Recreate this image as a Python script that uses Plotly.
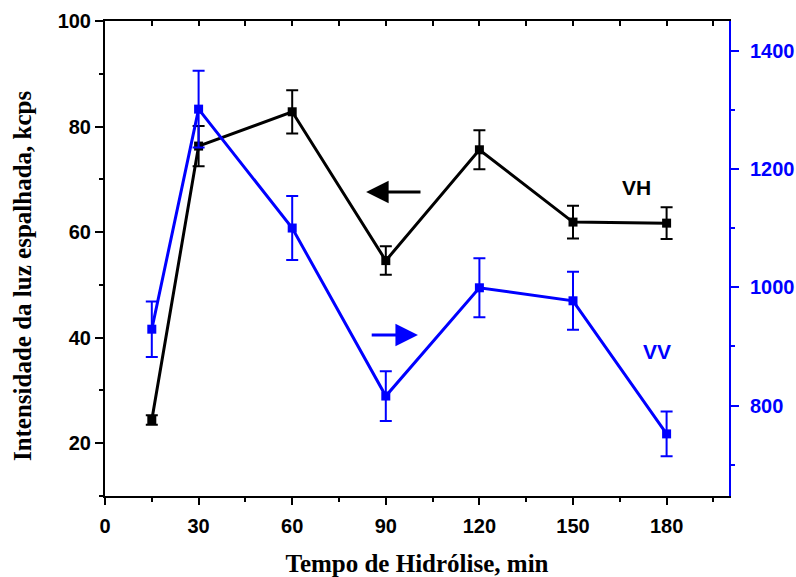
import plotly.graph_objects as go

time_min = [15, 30, 60, 90, 120, 150, 180]
vh_values = [24.4, 76.3, 82.8, 54.6, 75.6, 61.9, 61.7]
vh_errors = [0.9, 3.8, 4.1, 2.7, 3.7, 3.1, 3.0]
vv_values = [929, 1301, 1100, 816, 999, 977, 752]
vv_errors = [47, 65, 54, 42, 50, 49, 38]

BLUE = "#0000FF"
TICKFONT = dict(family="Liberation Sans, Arial", size=20, color="black", weight="bold")
TITLEFONT = dict(family="Liberation Serif, Times New Roman", size=25, color="black", weight="bold")

fig = go.Figure()

fig.add_trace(go.Scatter(
    x=time_min, y=vh_values, mode="lines+markers",
    line=dict(color="black", width=3),
    marker=dict(symbol="square", size=9, color="black"),
    error_y=dict(type="data", array=vh_errors, visible=True, color="black", thickness=2, width=6),
    yaxis="y", xaxis="x", showlegend=False,
))
fig.add_trace(go.Scatter(
    x=time_min, y=vv_values, mode="lines+markers",
    line=dict(color=BLUE, width=3),
    marker=dict(symbol="square", size=9, color=BLUE),
    error_y=dict(type="data", array=vv_errors, visible=True, color=BLUE, thickness=2, width=6),
    yaxis="y2", xaxis="x", showlegend=False,
))

fig.update_layout(
    width=796, height=577,
    margin=dict(l=105, r=67, t=21, b=81),
    paper_bgcolor="white", plot_bgcolor="white",
    xaxis=dict(
        range=[0, 200], tick0=0, dtick=30, ticks="outside", ticklen=7, tickwidth=2,
        tickcolor="black", showline=True, linecolor="black", linewidth=2,
        showgrid=False, zeroline=False, tickfont=TICKFONT, automargin=False,
        minor=dict(dtick=15, tick0=0, ticks="outside", ticklen=4, tickwidth=2, tickcolor="black", showgrid=False),
        title=dict(text="Tempo de Hidrólise, min", font=TITLEFONT, standoff=20),
        ticklabelstandoff=4,
    ),
    xaxis2=dict(
        range=[0, 200], overlaying="x", side="top", tick0=0, dtick=30,
        ticks="inside", ticklen=5, tickwidth=2, tickcolor="black",
        showline=True, linecolor="black", linewidth=2, showgrid=False, zeroline=False,
        showticklabels=False, automargin=False,
        minor=dict(dtick=15, tick0=0, ticks="inside", ticklen=5, tickwidth=2, tickcolor="black", showgrid=False),
    ),
    yaxis=dict(
        range=[10, 100], tick0=0, dtick=20, ticks="outside", ticklen=8, tickwidth=2,
        tickcolor="black", showline=True, linecolor="black", linewidth=2,
        showgrid=False, zeroline=False, tickfont=TICKFONT, automargin=False,
        minor=dict(dtick=10, tick0=0, ticks="outside", ticklen=4, tickwidth=2, tickcolor="black", showgrid=False),
    ),
    yaxis2=dict(
        range=[647, 1450], overlaying="y", side="right", tick0=0, dtick=200,
        ticks="outside", ticklen=8, tickwidth=2, tickcolor=BLUE,
        showline=True, linecolor=BLUE, linewidth=2, showgrid=False, zeroline=False,
        tickfont=dict(family="Liberation Sans, Arial", size=20, color=BLUE, weight="bold"),
        ticklabelstandoff=7, automargin=False,
        minor=dict(dtick=100, tick0=0, ticks="outside", ticklen=4, tickwidth=2, tickcolor=BLUE, showgrid=False),
    ),
)

fig.add_trace(go.Scatter(x=[None], y=[None], xaxis="x2", yaxis="y", showlegend=False, hoverinfo="skip"))

# y-axis title
fig.add_annotation(x=-0.133, y=0.463, xref="paper", yref="paper", text="Intensidade da luz espalhada, kcps",
                   textangle=-90, showarrow=False, xanchor="center", yanchor="middle", font=TITLEFONT)

fig.add_annotation(x=83.7, y=67.6, ax=101.6, ay=67.6, xref="x", yref="y", axref="x", ayref="y",
                   text="", showarrow=True, arrowhead=2, arrowsize=1.5, arrowwidth=3, arrowcolor="black")
fig.add_annotation(x=100.3, y=919, ax=85, ay=919, xref="x", yref="y2", axref="x", ayref="y2",
                   text="", showarrow=True, arrowhead=2, arrowsize=1.5, arrowwidth=3, arrowcolor=BLUE)
fig.add_annotation(x=170.4, y=68.5, xref="x", yref="y", text="VH", showarrow=False,
                   font=dict(family="Liberation Sans, Arial", size=21, color="black", weight="bold"))
fig.add_annotation(x=177, y=891, xref="x", yref="y2", text="VV", showarrow=False,
                   font=dict(family="Liberation Sans, Arial", size=21, color=BLUE, weight="bold"))

fig.write_html("out.html")
